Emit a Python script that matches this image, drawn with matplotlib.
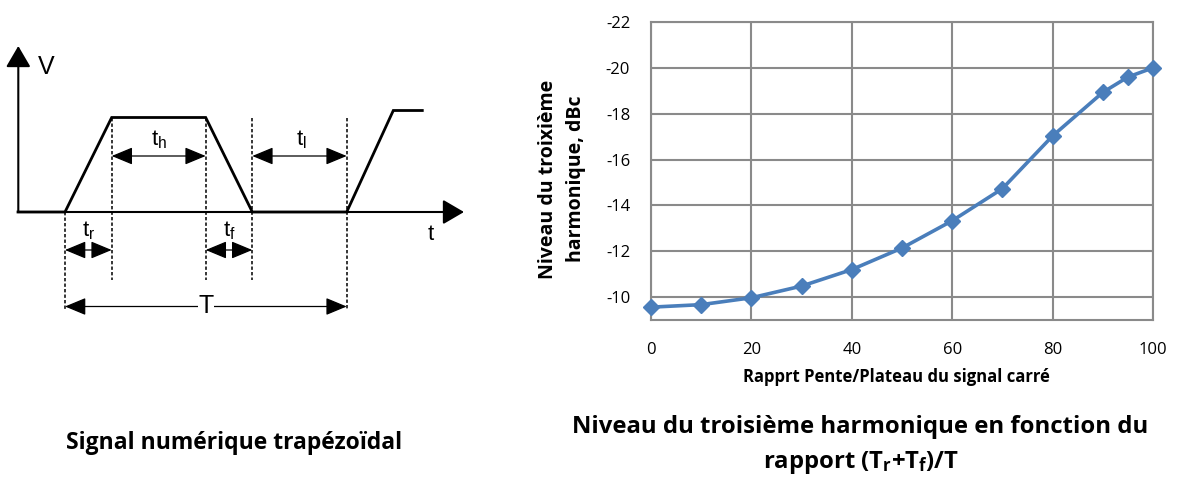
import numpy as np
import matplotlib
matplotlib.use('Agg')
import matplotlib.pyplot as plt

plt.rcParams['font.family'] = ['Open Sans', 'DejaVu Sans']
plt.rcParams['axes.unicode_minus'] = False
plt.rcParams['mathtext.fontset'] = 'custom'
plt.rcParams['mathtext.rm'] = 'Open Sans:bold'
plt.rcParams['mathtext.sf'] = 'Liberation Sans'

# third harmonic level vs slope/plateau ratio
ratio = [0, 10, 20, 30, 40, 50, 60, 70, 80, 90, 95, 100]
level = [-9.56, -9.67, -9.97, -10.48, -11.2, -12.14, -13.33, -14.73,
         -17.03, -18.93, -19.6, -20.0]
yticks = [-10, -12, -14, -16, -18, -20, -22]
xticks = [0, 20, 40, 60, 80, 100]

# trapezoid schematic, in drawing units (y grows downward)
t_edges = [65, 111.7, 205.7, 252.3, 346.7, 393.3, 422.3]
y_low, y_high, y_high2 = 212, 117.5, 110.5
sig_x = [18, t_edges[0], t_edges[1], t_edges[2], t_edges[3], t_edges[4], t_edges[5], t_edges[6]]
sig_y = [y_low, y_low, y_high, y_high, y_low, y_low, y_high2, y_high2]

blue = '#4a7ebb'
grid = '#8a8a8a'

W, H = 1178, 478
fig = plt.figure(figsize=(W / 100, H / 100), dpi=100)

# ---- left: trapezoidal signal ----
ax0 = fig.add_axes([0, 0, 480 / W, 1])
ax0.set_xlim(0, 480)
ax0.set_ylim(H, 0)
ax0.axis('off')

def arrow(ax, x0, y0, x1, y1, style, ms, lw):
    ax.annotate('', xy=(x1, y1), xytext=(x0, y0),
                arrowprops=dict(arrowstyle=style, mutation_scale=ms, lw=lw,
                                color='black', shrinkA=0, shrinkB=0))

# axes of the diagram
arrow(ax0, 18.3, y_low, 18.3, 46, '-|>,head_length=0.65,head_width=0.38', 20, 1.5)
arrow(ax0, 18.3, y_low, 464, y_low, '-|>,head_length=0.65,head_width=0.38', 20, 1.5)

ax0.plot(sig_x, sig_y, color='black', lw=2.0, solid_joinstyle='miter')

dash = dict(color='black', lw=1.1, dashes=(2.2, 1.4))
ax0.plot([t_edges[0]] * 2, [y_low, 309], **dash)
ax0.plot([t_edges[1]] * 2, [y_high, 280], **dash)
ax0.plot([t_edges[2]] * 2, [y_high, 280], **dash)
ax0.plot([t_edges[3]] * 2, [y_high, 280], **dash)
ax0.plot([t_edges[4]] * 2, [y_high, 309], **dash)

dim = '<|-|>,head_length=0.65,head_width=0.27'
arrow(ax0, t_edges[1], 156, t_edges[2], 156, dim, 20, 0.9)
arrow(ax0, t_edges[3], 156, t_edges[4], 156, dim, 20, 0.9)
arrow(ax0, t_edges[0], 250, t_edges[1], 250, dim, 20, 0.9)
arrow(ax0, t_edges[2], 250, t_edges[3], 250, dim, 20, 0.9)
arrow(ax0, t_edges[0], 306.5, t_edges[4], 306.5, dim, 20, 0.9)

lab = dict(family=['Liberation Sans', 'DejaVu Sans'], ha='center', va='center', color='black')
ax0.text(46, 67, 'V', fontsize=18, **lab)
ax0.text(431, 234, 't', fontsize=16, **lab)
ax0.text(159, 140, r'$\mathsf{t_h}$', fontsize=16, **lab)
ax0.text(301, 140, r'$\mathsf{t_l}$', fontsize=16, **lab)
ax0.text(89, 231, r'$\mathsf{t_r}$', fontsize=16, **lab)
ax0.text(229, 231, r'$\mathsf{t_f}$', fontsize=16, **lab)
ax0.text(206, 306, 'T', fontsize=18,
         bbox=dict(facecolor='white', edgecolor='none', pad=0.5), **lab)

fig.text(234 / W, 1 - 443 / H, 'Signal numérique trapézoïdal',
         ha='center', va='center', fontsize=16.5, fontweight='bold')

# ---- right: harmonic level chart ----
x0, x1, y0, y1 = 651, 1153, 22, 320
ax = fig.add_axes([x0 / W, 1 - y1 / H, (x1 - x0) / W, (y1 - y0) / H])
ax.plot(ratio, level, color=blue, lw=2.6, marker='D', markersize=8.5,
        markeredgecolor=blue, markerfacecolor=blue, zorder=3, clip_on=False)
ax.set_xlim(0, 100)
ax.set_ylim(-9, -22)
ax.set_xticks(xticks)
ax.set_yticks(yticks)
ax.grid(True, color=grid, lw=1.5)
for s in ax.spines.values():
    s.set_color(grid)
    s.set_linewidth(1.5)
ax.tick_params(length=0, labelsize=12)
ax.tick_params(axis='y', pad=15)
ax.tick_params(axis='x', pad=16)
ax.set_xlabel('Rapprt Pente/Plateau du signal carré', fontsize=12,
              fontweight='bold', va='center')
ax.xaxis.set_label_coords(0.488, -0.191)
ax.set_ylabel('Niveau du troixième\nharmonique, dBc', fontsize=14,
              fontweight='bold', va='center', linespacing=1.55)
ax.yaxis.set_label_coords(-0.178, 0.473)

fig.text(860 / W, 1 - 427 / H, 'Niveau du troisième harmonique en fonction du',
         ha='center', va='center', fontsize=17.2, fontweight='bold')
fig.text(861 / W, 1 - 462 / H, r'rapport (T$\mathrm{_r}$+T$\mathrm{_f}$)/T',
         ha='center', va='center', fontsize=17.2, fontweight='bold')

fig.savefig('out.png', dpi=100)
